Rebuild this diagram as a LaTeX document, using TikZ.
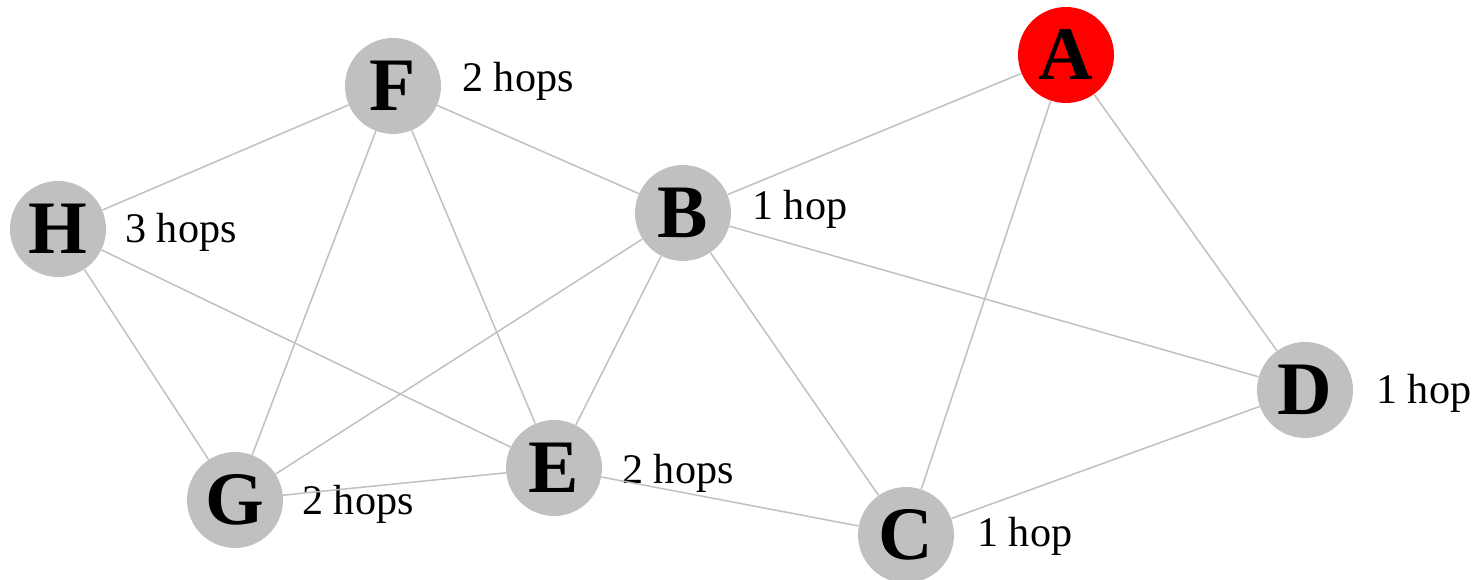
\documentclass[tikz,border=0pt]{standalone}
\usepackage{fontspec}
\setmainfont{Liberation Serif}
\usepackage{tikz}
\definecolor{hopgray}{RGB}{192,192,192}
\tikzstyle{hopnode} = [circle, minimum size=1.92cm, inner sep=0pt, fill=hopgray, font=\fontsize{43}{43}\selectfont\bfseries]
\tikzstyle{source} = [hopnode, fill=red]
\tikzstyle{hoplabel} = [anchor=base west, inner sep=0pt, font=\fontsize{24}{24}\selectfont]
\tikzstyle{link} = [draw=hopgray, line width=0.85pt]

\begin{document}
\begin{tikzpicture}[x=0.02cm, y=-0.02cm]
	\useasboundingbox (0,0) rectangle (1481,580);
	\node (A) [source] at (1066,55) {A};
	\node (B) [hopnode] at (683,213) {B};
	\node (C) [hopnode] at (906,535) {C};
	\node (D) [hopnode] at (1305,390) {D};
	\node (E) [hopnode] at (554,468) {E};
	\node (F) [hopnode] at (393,86) {F};
	\node (G) [hopnode] at (235,500) {G};
	\node (H) [hopnode] at (58,229) {H};

	% distances from A
	\node (lB) [hoplabel] at (752,220) {1 hop};
	\node (lC) [hoplabel] at (977,547) {1 hop};
	\node (lD) [hoplabel] at (1376,404) {1 hop};
	\node (lE) [hoplabel] at (622,484) {2 hops};
	\node (lF) [hoplabel] at (462,92) {2 hops};
	\node (lG) [hoplabel] at (302,515) {2 hops};
	\node (lH) [hoplabel] at (125,243) {3 hops};

	\foreach \u/\v in {A/B, A/C, A/D, B/F, B/D, B/C, B/E, B/G, F/H, F/G, F/E, H/G, H/E, G/E, E/C, C/D}
		\draw [link] (\u) -- (\v);
\end{tikzpicture}
\end{document}
